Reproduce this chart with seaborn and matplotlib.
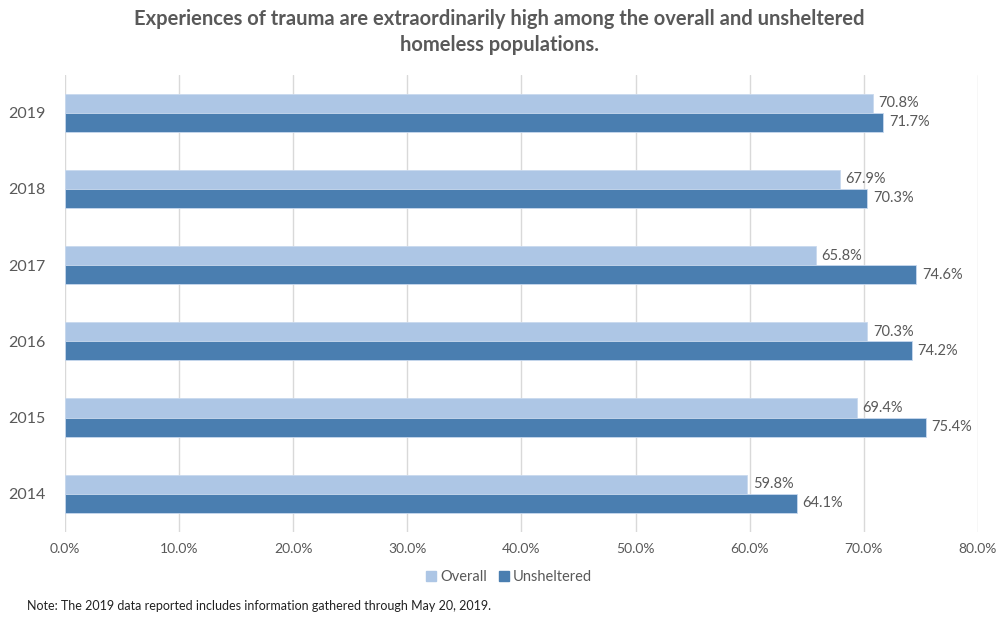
import numpy as np
import seaborn as sns
import matplotlib.pyplot as plt
import pandas as pd

# values (percent)
years = ['2019', '2018', '2017', '2016', '2015', '2014']
overall = [70.8, 67.9, 65.8, 70.3, 69.4, 59.8]
unsheltered = [71.7, 70.3, 74.6, 74.2, 75.4, 64.1]
series = ['Overall', 'Unsheltered']
xticks = np.arange(0, 81, 10)

df = pd.DataFrame({'Year': years * 2,
                   'Value': overall + unsheltered,
                   'Group': ['Overall'] * len(years) + ['Unsheltered'] * len(years)})

sns.set_style("white")
plt.rcParams['font.family'] = ['Lato', 'DejaVu Sans']
grey = '#595959'
colors = ['#ADC6E5', '#4A7EB0']

fig = plt.figure(figsize=(9.98, 6.22), dpi=100)
ax = fig.add_axes([0.065, 0.145, 0.915, 0.735])

ax = sns.barplot(data=df, x='Value', y='Year', hue='Group', order=years, hue_order=series,
                 palette=colors, saturation=1, width=0.5, ax=ax, legend=False,
                 edgecolor='#C9D9EE', linewidth=0.6)

# data labels
for cont in ax.containers:
    ax.bar_label(cont, labels=[f'{v:.1f}%' for v in cont.datavalues], padding=4,
                 fontsize=10.5, color=grey)

ax.set_xlim(0, 80)
ax.set_xticks(xticks)
ax.set_xticklabels([f'{t:.1f}%' for t in xticks], fontsize=10, color=grey)
ax.tick_params(axis='y', labelsize=11.5, labelcolor=grey, length=0, pad=14)
ax.tick_params(axis='x', length=0, pad=8)
ax.grid(axis='x', color='#D9D9D9', linewidth=1)
ax.set_axisbelow(True)
for s in ax.spines.values():
    s.set_visible(False)
ax.set_xlabel('')
ax.set_ylabel('')

fig.suptitle('Experiences of trauma are extraordinarily high among the overall and unsheltered\nhomeless populations.',
             y=0.985, fontsize=14.5, fontweight='bold', color=grey, linespacing=1.35)

handles = [plt.Rectangle((0, 0), 1, 1, color=c) for c in colors]
fig.legend(handles, series, loc='center', bbox_to_anchor=(0.51, 0.072), ncol=2, frameon=False,
           fontsize=10.5, labelcolor=grey, handlelength=0.7, handleheight=0.7,
           handletextpad=0.3, columnspacing=0.8)

fig.text(0.027, 0.02, 'Note: The 2019 data reported includes information gathered through May 20, 2019.',
         fontsize=9, color='#222222')

plt.savefig('out.png', dpi=100)
